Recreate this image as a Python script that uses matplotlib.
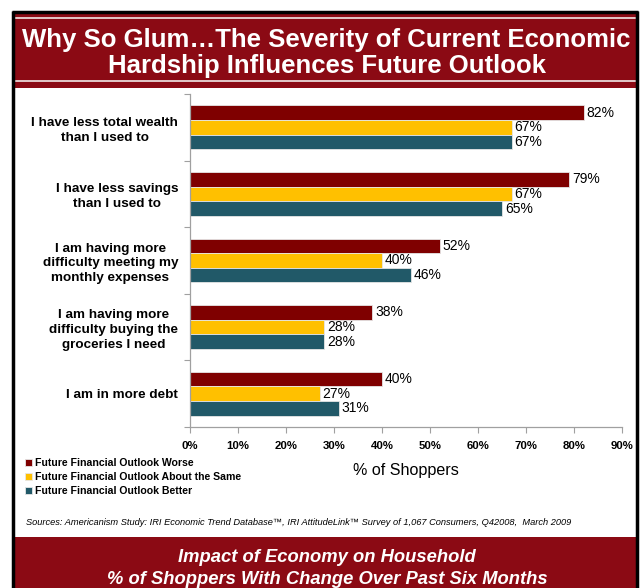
import matplotlib
matplotlib.use("Agg")
import matplotlib.pyplot as plt
from matplotlib.patches import Rectangle
from matplotlib.lines import Line2D
import numpy as np

plt.rcParams['font.family'] = ['Liberation Sans', 'DejaVu Sans']

categories = [
    "I have less total wealth\nthan I used to",
    "I have less savings\nthan I used to",
    "I am having more\ndifficulty meeting my\nmonthly expenses",
    "I am having more\ndifficulty buying the\ngroceries I need",
    "I am in more debt",
]
series_names = [
    "Future Financial Outlook Worse",
    "Future Financial Outlook About the Same",
    "Future Financial Outlook Better",
]
worse = [82, 79, 52, 38, 40]
same = [67, 67, 40, 28, 27]
better = [67, 65, 46, 28, 31]
series_values = [worse, same, better]
series_colors = ["#7f0000", "#ffc000", "#215968"]
x_ticks = [0, 10, 20, 30, 40, 50, 60, 70, 80, 90]

title_lines = ["Why So Glum\u2026The Severity of Current Economic",
               "Hardship Influences Future Outlook"]
footer_lines = ["Impact of Economy on Household",
                "% of Shoppers With Change Over Past Six Months"]
source_text = ("Sources: Americanism Study: IRI Economic Trend Database\u2122, IRI AttitudeLink\u2122 "
               "Survey of 1,067 Consumers, Q42008,  March 2009")

W, H = 641, 588
fig = plt.figure(figsize=(W / 100, H / 100), dpi=100)
fig.patch.set_facecolor("white")


def fx(px):
    return px / W


def fy(py):
    return 1 - py / H


banner = "#8b0a14"

# header banner with thin white rules
fig.patches.append(Rectangle((fx(13), fy(88)), fx(624), (88 - 12) / H,
                             transform=fig.transFigure, facecolor=banner, edgecolor="none", zorder=1))
for yy in (17.5, 80.5):
    fig.lines.append(Line2D([fx(15), fx(635)], [fy(yy), fy(yy)], transform=fig.transFigure,
                            color="#ead6d6", lw=1.3, zorder=2))
for line, base in zip(title_lines, (46.5, 72.5)):
    fig.text(fx(326.5), fy(base), line, ha="center", va="baseline", color="white",
             fontsize=18.5, fontweight="bold", zorder=3)

# footer banner
fig.patches.append(Rectangle((fx(13), 0), fx(624), (H - 537) / H,
                             transform=fig.transFigure, facecolor=banner, edgecolor="none", zorder=1))
for line, base in zip(footer_lines, (562.5, 584.5)):
    fig.text(fx(327), fy(base), line, ha="center", va="baseline", color="white",
             fontsize=13.2, fontweight="bold", style="italic", zorder=3)

# black frame
frame_kw = dict(transform=fig.transFigure, color="black", lw=2.5, zorder=4, solid_capstyle="butt")
fig.lines.append(Line2D([fx(13), fx(13)], [fy(11), 0], **frame_kw))
fig.lines.append(Line2D([fx(637), fx(637)], [fy(11), 0], **frame_kw))
fig.lines.append(Line2D([fx(12), fx(638)], [fy(12), fy(12)], **frame_kw))

# main bar chart
ax = fig.add_axes([fx(190), fy(427), fx(622 - 190), (427 - 94) / H])
n = len(categories)
y = np.arange(n)
bh = 0.22
offsets = [-bh, 0, bh]
handles = []
for vals, col, off, name in zip(series_values, series_colors, offsets, series_names):
    bars = ax.barh(y + off, vals, height=bh, color=col, edgecolor="#e6e6e6", linewidth=0.6,
                   label=name)
    handles.append(bars)
    for b, v in zip(bars, vals):
        ax.text(b.get_width() + 0.6, b.get_y() + b.get_height() / 2, f"{v}%",
                va="center", ha="left", fontsize=10, color="black")

ax.set_xlim(0, 90)
ax.set_ylim(n - 0.5, -0.5)
ax.set_xticks(x_ticks)
ax.set_xticklabels([f"{t}%" for t in x_ticks], fontsize=8.2, fontweight="bold")
ax.set_yticks(np.arange(n + 1) - 0.5, minor=False)
ax.set_yticklabels([])
ax.set_yticks(y, minor=True)
ax.set_yticklabels(categories, minor=True, fontsize=9.7, fontweight="bold", ha="right",
                   multialignment="center", linespacing=1.33)
ax.tick_params(axis="y", which="minor", length=0, pad=8.6)
ax.tick_params(axis="y", which="major", length=4, color="#a0a0a0", direction="out")
ax.tick_params(axis="x", length=4, color="#a0a0a0", direction="out", pad=6.3)
for s in ("top", "right"):
    ax.spines[s].set_visible(False)
for s in ("left", "bottom"):
    ax.spines[s].set_color("#a0a0a0")
    ax.spines[s].set_linewidth(0.9)
ax.set_xlabel("% of Shoppers", fontsize=11.6)
ax.xaxis.set_label_coords((406 - 190) / (622 - 190), -(470 - 427) / (427 - 94))
ax.xaxis.label.set_va("center")

# legend
leg = fig.legend(handles=handles, labels=series_names, loc="upper left",
                 bbox_to_anchor=(fx(25), fy(458)), frameon=False,
                 prop={"size": 7.6, "weight": "bold"}, handlelength=0.65, handleheight=0.65,
                 handletextpad=0.3, labelspacing=0.38, borderaxespad=0, borderpad=0)

fig.text(fx(26), fy(522.5), source_text, fontsize=6.7, style="italic", va="center", ha="left")

fig.savefig("out.png", dpi=100, facecolor="white")
